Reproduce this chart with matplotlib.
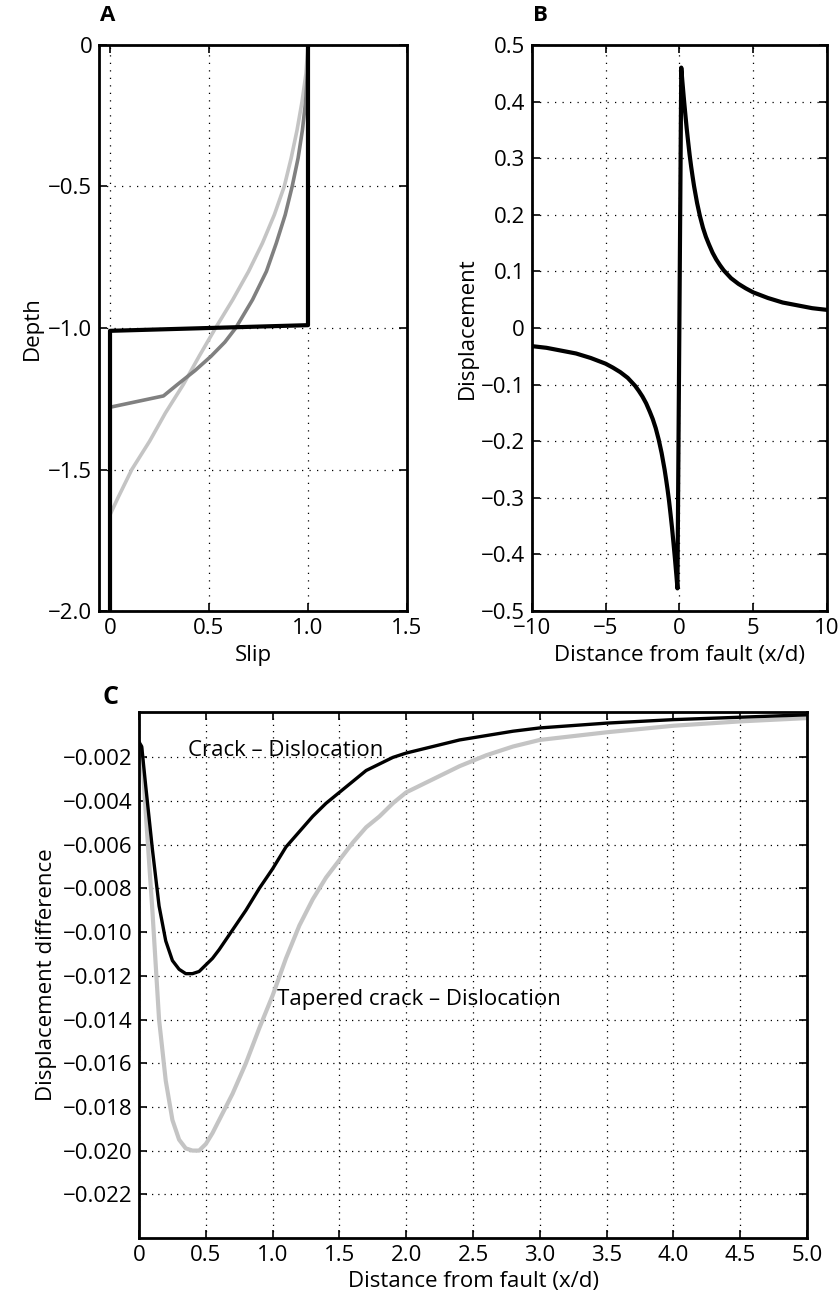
import matplotlib
matplotlib.use('Agg')
import matplotlib.pyplot as plt
from matplotlib.ticker import FixedLocator, FixedFormatter

plt.rcParams['font.family'] = ['Open Sans', 'DejaVu Sans']
plt.rcParams['font.size'] = 16

# Panel A: slip vs depth
disloc_slip = [1.0, 1.0, 0.0, 0.0]
disloc_depth = [0.0, -0.99, -1.01, -2.0]

crack_slip = [1.0, 0.997, 0.988, 0.972, 0.95, 0.92, 0.885, 0.84, 0.79, 0.72, 0.635,
              0.58, 0.51, 0.43, 0.34, 0.27, 0.0, 0.0]
crack_depth = [0.0, -0.1, -0.2, -0.3, -0.4, -0.5, -0.6, -0.7, -0.8, -0.9, -1.0,
               -1.05, -1.1, -1.15, -1.2, -1.24, -1.28, -2.0]

taper_slip = [1.0, 0.99, 0.97, 0.945, 0.915, 0.88, 0.83, 0.77, 0.70, 0.62, 0.533,
              0.45, 0.37, 0.28, 0.2, 0.11, 0.04, 0.0, 0.0]
taper_depth = [0.0, -0.1, -0.2, -0.3, -0.4, -0.5, -0.6, -0.7, -0.8, -0.9, -1.0,
               -1.1, -1.2, -1.3, -1.4, -1.5, -1.6, -1.66, -2.0]

# Panel B: surface displacement of the dislocation
dist_b = [-10, -9, -8, -7, -6, -5, -4.5, -4, -3.5, -3, -2.75, -2.5, -2.25, -2, -1.8, -1.6,
          -1.4, -1.2, -1, -0.9, -0.8, -0.7, -0.6, -0.5, -0.4, -0.3, -0.25, -0.2, -0.15, -0.13,
          0.13, 0.15, 0.2, 0.25, 0.3, 0.4, 0.5, 0.6, 0.7, 0.8, 0.9, 1, 1.2, 1.4, 1.6, 1.8,
          2, 2.25, 2.5, 2.75, 3, 3.5, 4, 4.5, 5, 6, 7, 8, 9, 10]
disp_b = [-0.032, -0.035, -0.040, -0.045, -0.053, -0.063, -0.070, -0.078, -0.088, -0.102,
          -0.111, -0.121, -0.133, -0.148, -0.161, -0.177, -0.197, -0.221, -0.25, -0.267,
          -0.285, -0.305, -0.328, -0.352, -0.379, -0.407, -0.422, -0.437, -0.453, -0.46,
          0.46, 0.453, 0.437, 0.422, 0.407, 0.379, 0.352, 0.328, 0.305, 0.285, 0.267, 0.25,
          0.221, 0.197, 0.177, 0.161, 0.148, 0.133, 0.121, 0.111, 0.102, 0.088, 0.078,
          0.070, 0.063, 0.053, 0.045, 0.040, 0.035, 0.032]

# Panel C: displacement differences
dist_c = [0.0, 0.02, 0.05, 0.1, 0.15, 0.2, 0.25, 0.3, 0.35, 0.4, 0.45, 0.5, 0.55, 0.6,
          0.7, 0.8, 0.9, 1.0, 1.1, 1.2, 1.3, 1.4, 1.5, 1.6, 1.7, 1.8, 1.9, 2.0, 2.2, 2.4,
          2.6, 2.8, 3.0, 3.5, 4.0, 4.5, 5.0]
diff_crack = [-0.0013, -0.0015, -0.0033, -0.0062, -0.0088, -0.0104, -0.0113, -0.0117,
              -0.0119, -0.0119, -0.0118, -0.0115, -0.0112, -0.0108, -0.0099, -0.0090,
              -0.0080, -0.0071, -0.0061, -0.0054, -0.0047, -0.0041, -0.0036, -0.0031,
              -0.0026, -0.0023, -0.0020, -0.0018, -0.0015, -0.0012, -0.0010, -0.0008,
              -0.00065, -0.00043, -0.00027, -0.00016, -0.00005]
diff_taper = [-0.0013, -0.0016, -0.0045, -0.0090, -0.0140, -0.0168, -0.0186, -0.0195,
              -0.0199, -0.0200, -0.0200, -0.0197, -0.0192, -0.0186, -0.0174, -0.0160,
              -0.0144, -0.0129, -0.0112, -0.0097, -0.0085, -0.0075, -0.0067, -0.0059,
              -0.0052, -0.0047, -0.0041, -0.0036, -0.0030, -0.0024, -0.0019, -0.0015,
              -0.0012, -0.00085, -0.00055, -0.00035, -0.0002]


def style(ax, xt, xl, yt, yl, dots=(0, (1, 5))):
    ax.xaxis.set_major_locator(FixedLocator(xt))
    ax.xaxis.set_major_formatter(FixedFormatter(xl))
    ax.yaxis.set_major_locator(FixedLocator(yt))
    ax.yaxis.set_major_formatter(FixedFormatter(yl))
    ax.tick_params(direction='in', length=6, width=1.2, top=True, right=True,
                   labelsize=16, pad=5)
    for s in ax.spines.values():
        s.set_linewidth(2)
    ax.grid(True, color='black', linestyle=dots, linewidth=0.9)


fig = plt.figure(figsize=(8.4, 12.99), dpi=100)

axA = fig.add_axes([0.118, 0.5296, 0.3665, 0.4358])
axA.plot(taper_slip, taper_depth, color='#c4c4c4', lw=2.6, zorder=3)
axA.plot(crack_slip, crack_depth, color='#808080', lw=2.6, zorder=4)
axA.plot(disloc_slip, disloc_depth, color='black', lw=3, zorder=5)
axA.set_xlim(-0.055, 1.5)
axA.set_ylim(-2.0, 0.0)
style(axA, [0, 0.5, 1.0, 1.5], ['0', '0.5', '1.0', '1.5'],
      [0, -0.5, -1.0, -1.5, -2.0], ['0', '\u22120.5', '\u22121.0', '\u22121.5', '\u22122.0'])
axA.set_xlabel('Slip', fontsize=16)
axA.set_ylabel('Depth', fontsize=16)
fig.text(0.119, 0.98, 'A', fontsize=16, fontweight='bold', va='bottom')

axB = fig.add_axes([0.633, 0.5296, 0.3515, 0.4358])
axB.plot(dist_b, disp_b, color='black', lw=3)
axB.set_xlim(-10, 10)
axB.set_ylim(-0.5, 0.5)
yb = [0.5, 0.4, 0.3, 0.2, 0.1, 0, -0.1, -0.2, -0.3, -0.4, -0.5]
style(axB, [-10, -5, 0, 5, 10], ['\u221210', '\u22125', '0', '5', '10'],
      yb, [('%g' % v).replace('-', '\u2212') for v in yb])
axB.set_xlabel('Distance from fault (x/d)', fontsize=16)
axB.set_ylabel('Displacement', fontsize=16, labelpad=2)
fig.text(0.634, 0.98, 'B', fontsize=16, fontweight='bold', va='bottom')

axC = fig.add_axes([0.1655, 0.047, 0.7952, 0.4049])
axC.plot(dist_c, diff_taper, color='#c4c4c4', lw=3)
axC.plot(dist_c, diff_crack, color='black', lw=2.4)
axC.set_xlim(0, 5)
axC.set_ylim(-0.024, 0.00008)
xc = [0, 0.5, 1.0, 1.5, 2.0, 2.5, 3.0, 3.5, 4.0, 4.5, 5.0]
yc = [-0.002, -0.004, -0.006, -0.008, -0.010, -0.012, -0.014, -0.016, -0.018, -0.020, -0.022]
style(axC, xc, ['0'] + ['%.1f' % v for v in xc[1:]],
      yc, [('%.3f' % v).replace('-', '\u2212') for v in yc], dots=(0, (1, 4)))
axC.text(0.37, -0.0017, 'Crack \u2013 Dislocation', fontsize=16, va='center')
axC.text(1.03, -0.0131, 'Tapered crack \u2013 Dislocation', fontsize=16, va='center')
axC.set_xlabel('Distance from fault (x/d)', fontsize=16)
axC.set_ylabel('Displacement difference', fontsize=16)
fig.text(0.122, 0.4535, 'C', fontsize=18, fontweight='bold', va='bottom')

fig.savefig('out.png', dpi=100)
